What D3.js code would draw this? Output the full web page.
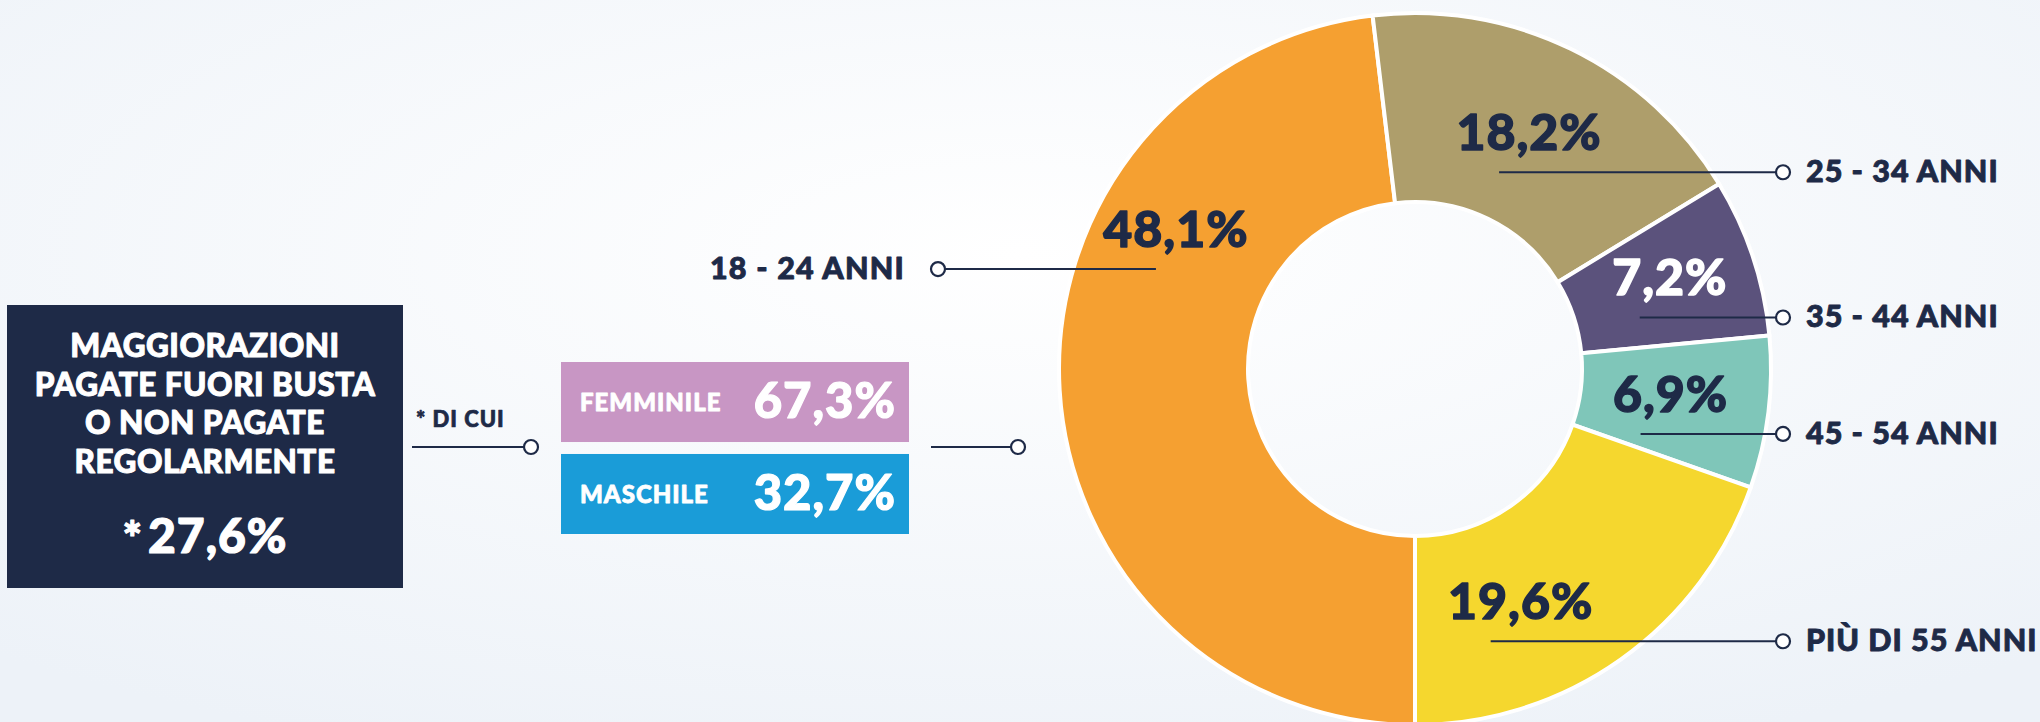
<!DOCTYPE html>
<html>
<head>
<meta charset="utf-8">
<script src="https://cdn.jsdelivr.net/npm/d3@7"></script>
<style>
  html, body { margin: 0; padding: 0; overflow: hidden; background: #f2f6fb; }
  svg { display: block; font-family: Lato, "Noto Sans", sans-serif; }
</style>
</head>
<body>
<div id="chart"></div>
<script>
// dati
const fasceEta = ["18 - 24 ANNI", "25 - 34 ANNI", "35 - 44 ANNI", "45 - 54 ANNI", "PIÙ DI 55 ANNI"];
const percentualiEta = [48.1, 18.2, 7.2, 6.9, 19.6];
const coloriEta = ["#f5a031", "#ae9e6b", "#5b527c", "#7fc6b9", "#f5d72e"];
const generi = ["FEMMINILE", "MASCHILE"];
const percentualiGenere = [67.3, 32.7];
const coloriGenere = ["#c896c4", "#1a9cd8"];
const titolo = ["MAGGIORAZIONI", "PAGATE FUORI BUSTA", "O NON PAGATE", "REGOLARMENTE"];
const totale = 27.6;
const diCui = "* DI CUI";

const navy = "#1e2a47";
const width = 2040, height = 722;

// formato italiano con la virgola
const it = d3.formatLocale({decimal: ",", thousands: ".", grouping: [3], currency: ["", "€"]});
const fmt = v => it.format(".1f")(v) + "%";

const svg = d3.select("#chart").append("svg")
  .attr("width", width)
  .attr("height", height);

// testo "più nero": contorno dello stesso colore
const grassetto = (sel, colore, spessore) => sel
  .attr("fill", colore)
  .attr("stroke", colore)
  .attr("stroke-width", spessore)
  .attr("stroke-linejoin", "round");

// sfondo sfumato
const defs = svg.append("defs");
const grad = defs.append("radialGradient")
  .attr("id", "bg")
  .attr("cx", "0.5").attr("cy", "0.35").attr("r", "0.75");
grad.append("stop").attr("offset", "0%").attr("stop-color", "#ffffff");
grad.append("stop").attr("offset", "100%").attr("stop-color", "#edf2f8");
svg.append("rect").attr("width", width).attr("height", height).attr("fill", "url(#bg)");

// ---- riquadro a sinistra
const box = svg.append("g");
box.append("rect")
  .attr("x", 7).attr("y", 305)
  .attr("width", 396).attr("height", 283)
  .attr("fill", navy);
box.selectAll("text.titolo")
  .data(titolo)
  .join("text")
  .attr("class", "titolo")
  .attr("x", 205)
  .attr("y", (d, i) => 357 + i * 38.6)
  .attr("text-anchor", "middle")
  .attr("font-size", 31.5)
  .attr("font-weight", 900)
  .attr("letter-spacing", 0.5)
  .call(grassetto, "#fff", 1)
  .text(d => d);
const tot = box.append("text")
  .attr("x", 205).attr("y", 553)
  .attr("text-anchor", "middle")
  .attr("font-weight", 900)
  .call(grassetto, "#fff", 1.2);
tot.append("tspan").attr("font-size", 46).attr("dy", 2).text("*");
tot.append("tspan").attr("font-size", 48).attr("dy", -2).attr("dx", 6).attr("letter-spacing", 1).text(fmt(totale));

// ---- "di cui" e collegamento
const connettore = (g, x1, x2, y) => {
  g.append("line")
    .attr("x1", x1).attr("x2", x2)
    .attr("y1", y).attr("y2", y)
    .attr("stroke", navy).attr("stroke-width", 2);
  g.append("circle")
    .attr("cx", x2 + 7).attr("cy", y).attr("r", 7)
    .attr("fill", "#fff").attr("stroke", navy).attr("stroke-width", 2.2);
};

const mezzo = svg.append("g");
mezzo.append("text")
  .attr("x", 416).attr("y", 427)
  .attr("font-size", 22)
  .attr("font-weight", 900)
  .attr("letter-spacing", 1)
  .call(grassetto, navy, 0.7)
  .text(diCui);
connettore(mezzo, 412, 524, 447);

// riquadri per genere
const yGenere = d3.scaleBand()
  .domain(generi)
  .range([362, 534])
  .paddingInner(0.13);

const gGen = mezzo.selectAll("g.genere")
  .data(generi)
  .join("g")
  .attr("class", "genere")
  .attr("transform", d => `translate(561,${yGenere(d)})`);
gGen.append("rect")
  .attr("width", 348)
  .attr("height", yGenere.bandwidth())
  .attr("fill", (d, i) => coloriGenere[i]);
gGen.append("text")
  .attr("x", 19)
  .attr("y", yGenere.bandwidth() / 2 + 9)
  .attr("font-size", 24)
  .attr("font-weight", 900)
  .attr("letter-spacing", 1)
  .call(grassetto, "#fff", 0.8)
  .text(d => d);
gGen.append("text")
  .attr("x", 335)
  .attr("y", yGenere.bandwidth() / 2 + 16)
  .attr("text-anchor", "end")
  .attr("font-size", 49)
  .attr("font-weight", 900)
  .attr("letter-spacing", 1)
  .call(grassetto, "#fff", 1.2)
  .text((d, i) => fmt(percentualiGenere[i]));

connettore(mezzo, 931, 1011, 447);

// ---- ciambella
const cx = 1415, cy = 369;
const rOut = 356, rIn = 167;

const pie = d3.pie()
  .sort(null)
  .value(d => d)
  .startAngle(Math.PI)
  .endAngle(3 * Math.PI);
const archi = pie(percentualiEta);
const arc = d3.arc().innerRadius(rIn).outerRadius(rOut);

const torta = svg.append("g").attr("transform", `translate(${cx},${cy})`);
torta.selectAll("path")
  .data(archi)
  .join("path")
  .attr("d", arc)
  .attr("fill", (d, i) => coloriEta[i])
  .attr("stroke", "#fff")
  .attr("stroke-width", 4);

// posizione etichette: spostamento angolare e raggio
const spostaAngolo = [33.4, 0, -1, -1, 11];
const raggioEtichetta = [276, 261, 270, 257, 257];
const coloreTesto = [navy, navy, "#fff", navy, navy];

const etichette = archi.map((a, i) => {
  const ang = (a.startAngle + a.endAngle) / 2 + spostaAngolo[i] * Math.PI / 180;
  return {
    x: cx + raggioEtichetta[i] * Math.sin(ang),
    y: cy - raggioEtichetta[i] * Math.cos(ang) + 16,
    i: i
  };
});

const gEt = svg.append("g");
etichette.forEach(e => {
  const sinistra = e.i === 0;
  const yl = e.y + 22;
  if (sinistra) {
    gEt.append("line")
      .attr("x1", 946).attr("x2", e.x - 20)
      .attr("y1", yl).attr("y2", yl)
      .attr("stroke", navy).attr("stroke-width", 2);
    gEt.append("circle")
      .attr("cx", 938).attr("cy", yl).attr("r", 7)
      .attr("fill", "#fff").attr("stroke", navy).attr("stroke-width", 2.2);
    gEt.append("text")
      .attr("x", 905).attr("y", yl + 10)
      .attr("text-anchor", "end")
      .attr("font-size", 30.5)
      .attr("font-weight", 900)
      .attr("letter-spacing", 1.2)
      .call(grassetto, navy, 0.9)
      .text(fasceEta[e.i]);
  } else {
    gEt.append("line")
      .attr("x1", e.x - 30).attr("x2", 1776)
      .attr("y1", yl).attr("y2", yl)
      .attr("stroke", navy).attr("stroke-width", 2);
    gEt.append("circle")
      .attr("cx", 1783).attr("cy", yl).attr("r", 7)
      .attr("fill", "#fff").attr("stroke", navy).attr("stroke-width", 2.2);
    gEt.append("text")
      .attr("x", 1806).attr("y", yl + 10)
      .attr("font-size", 30.5)
      .attr("font-weight", 900)
      .attr("letter-spacing", 1)
      .call(grassetto, navy, 0.9)
      .text(fasceEta[e.i]);
  }
  gEt.append("text")
    .attr("x", e.x).attr("y", e.y)
    .attr("text-anchor", "middle")
    .attr("font-size", 50)
    .attr("font-weight", 900)
    .attr("letter-spacing", 1)
    .call(grassetto, coloreTesto[e.i], 1.4)
    .text(fmt(percentualiEta[e.i]));
});
</script>
</body>
</html>
